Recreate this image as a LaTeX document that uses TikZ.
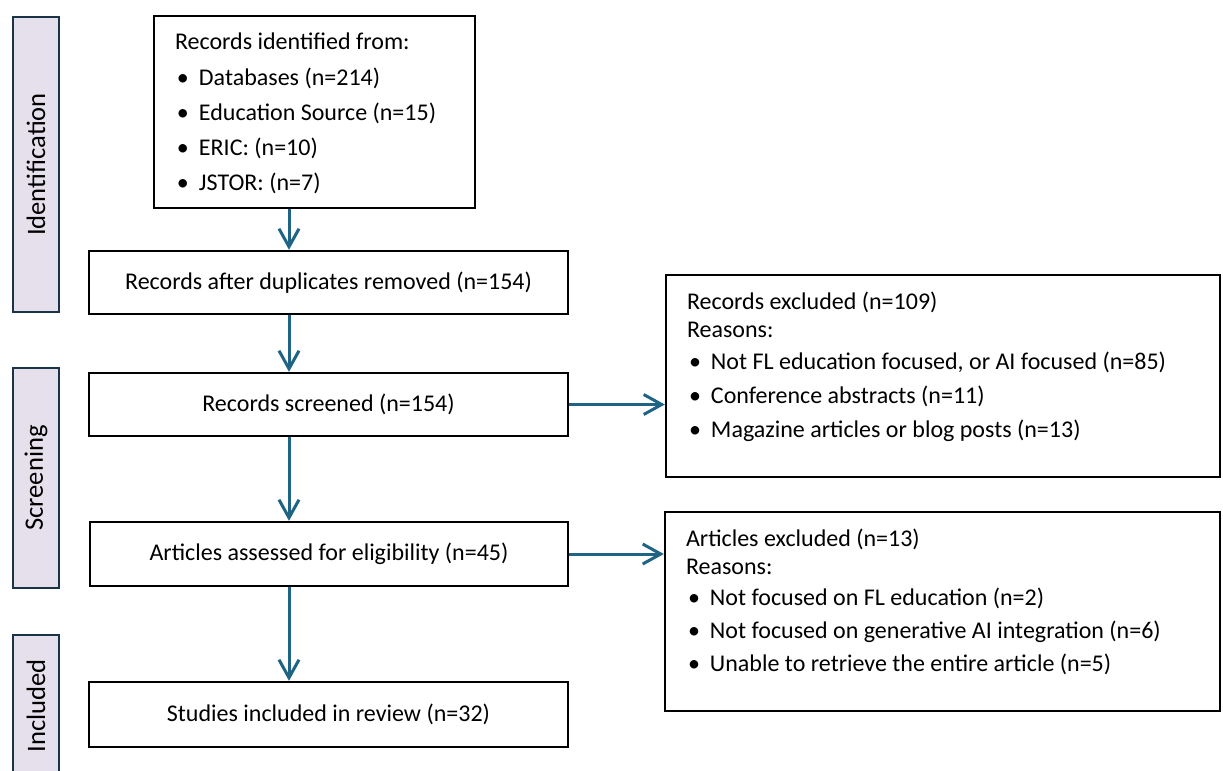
\documentclass[tikz,border=0pt]{standalone}
\usepackage{fontspec}
\setmainfont{Carlito}
\usepackage{tikz}
\usetikzlibrary{arrows.meta,positioning,calc}
\usepackage{xcolor}

\definecolor{flowblue}{RGB}{31,99,133}
\definecolor{phasefill}{RGB}{229,224,236}
\definecolor{phaseline}{RGB}{24,52,70}
\newcommand{\boxfont}{\fontsize{12pt}{14pt}\selectfont}
\newcommand{\itm}[1]{\makebox[12pt][l]{\hspace{1pt}\textbullet}#1}

\begin{document}
\begin{tikzpicture}[x=0.5pt, y=-0.5pt,
    phase/.style={draw=phaseline, fill=phasefill, line width=1.2pt,
                  rotate=90, minimum height=23pt, inner sep=0pt,
                  font=\fontsize{13.3pt}{15pt}\selectfont},
    stage/.style={draw, line width=1.2pt, minimum width=239.5pt,
                  minimum height=31.5pt, align=center, font=\boxfont},
    listbox/.style={draw, line width=1.2pt, inner xsep=10.5pt,
                    inner ysep=8.5pt, font=\boxfont},
    flow/.style={-{Straight Barb[length=9pt,width=10pt]},
                 line width=1.5pt, draw=flowblue},
]
\useasboundingbox (0,0) rectangle (1223,771);

% Phase labels
\node[phase, minimum width=147.5pt] (pident) at (36,164.5) {Identification};
\node[phase, minimum width=110pt] (pscreen) at (36,478) {Screening};
\node[phase, minimum width=71pt] (pincl) at (36,706) {Included};

% Main column
\node[listbox] (ident) at (314.5,112)
    {\parbox[c][79pt][t]{139.5pt}{Records identified from:\\[4pt]
     \itm{Databases (n=214)}\\[3.5pt]
     \itm{Education Source (n=15)}\\[3.5pt]
     \itm{ERIC: (n=10)}\\[3.5pt]
     \itm{JSTOR: (n=7)}}};
\node[stage] (dedup) at (328.5,282.5)
    {Records after duplicates removed (n=154)};
\node[stage] (screened) at (328.5,404.5) {Records screened (n=154)};
\node[stage, minimum width=239pt, minimum height=32pt] (eligible)
    at (329,554) {Articles assessed for eligibility (n=45)};
\node[stage, minimum height=32.5pt] (included) at (328.5,714.5)
    {Studies included in review (n=32)};

% Exclusions
\node[listbox] (excl1) at (943,376)
    {\parbox[c][84pt][t]{256pt}{Records excluded (n=109)\\
     Reasons:\\[2pt]
     \itm{Not FL education focused, or AI focused (n=85)}\\[3pt]
     \itm{Conference abstracts (n=11)}\\[3pt]
     \itm{Magazine articles or blog posts (n=13)}}};
\node[listbox] (excl2) at (942.5,611.5)
    {\parbox[c][82.5pt][t]{256.5pt}{Articles excluded (n=13)\\
     Reasons:\\[1.5pt]
     \itm{Not focused on FL education (n=2)}\\[2.5pt]
     \itm{Not focused on generative AI integration (n=6)}\\[2.5pt]
     \itm{Unable to retrieve the entire article (n=5)}}};

% Arrows
\coordinate (spine) at (289,0);
\draw[flow] (ident.south -| spine) -- (dedup.north -| spine);
\draw[flow] (dedup.south -| spine) -- (screened.north -| spine);
\draw[flow] (screened.south -| spine) -- (eligible.north -| spine);
\draw[flow] (eligible.south -| spine) -- (included.north -| spine);
\draw[flow] (screened.east) -- (screened.east -| excl1.west);
\draw[flow] (eligible.east) -- (eligible.east -| excl2.west);

\end{tikzpicture}
\end{document}
